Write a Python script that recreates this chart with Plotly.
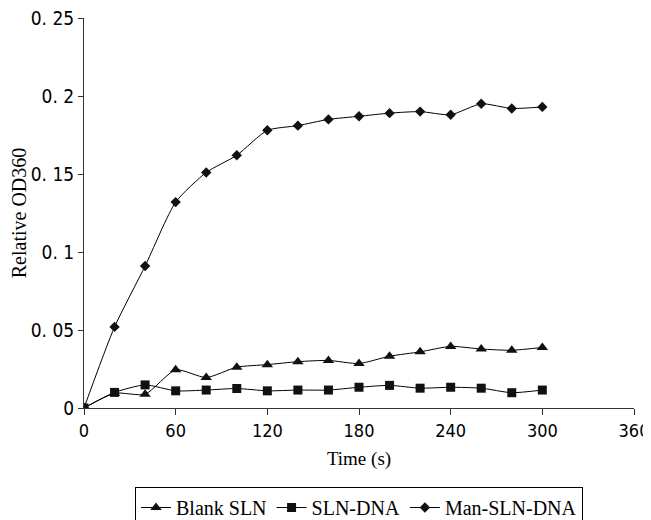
import plotly.graph_objects as go

time_s = [0, 20, 40, 60, 80, 100, 120, 140, 160, 180, 200, 220, 240, 260, 280, 300]
blank_sln = [0, 0.0095, 0.0088, 0.0245, 0.0195, 0.0262, 0.0278, 0.0297, 0.0305, 0.0285,
             0.0332, 0.0360, 0.0395, 0.0378, 0.0370, 0.0388]
sln_dna = [0, 0.0100, 0.0148, 0.0110, 0.0115, 0.0125, 0.0110, 0.0115, 0.0115, 0.0133,
           0.0145, 0.0127, 0.0133, 0.0127, 0.0098, 0.0115]
man_sln_dna = [0, 0.052, 0.091, 0.132, 0.151, 0.162, 0.178, 0.181, 0.185, 0.187,
               0.189, 0.190, 0.188, 0.195, 0.192, 0.193]

series_names = ["Blank SLN", "SLN-DNA", "Man-SLN-DNA"]
y_tickvals = [0, 0.05, 0.1, 0.15, 0.2, 0.25]
y_ticktext = ["0", "0. 05", "0. 1", "0. 15", "0. 2", "0. 25"]
x_tickvals = [0, 60, 120, 180, 240, 300, 360]

fig = go.Figure()
symbols = ["triangle-up", "square", "diamond"]
sizes = [10, 9, 8]
for name, vals, sym, sz in zip(series_names, [blank_sln, sln_dna, man_sln_dna], symbols, sizes):
    fig.add_trace(go.Scatter(
        x=time_s, y=vals, name=name, mode="lines+markers",
        line=dict(color="black", width=1, shape="spline", smoothing=0.6),
        marker=dict(symbol=sym, size=sz, color="#111111"),
    ))

narrow = "DejaVu Sans Condensed, Liberation Sans Narrow, Arial Narrow, sans-serif"
serif = "Liberation Serif, Times New Roman, serif"

fig.update_layout(
    width=651, height=520,
    margin=dict(l=76, r=25, t=10, b=120),
    paper_bgcolor="white", plot_bgcolor="white",
    showlegend=True,
    legend=dict(
        orientation="h", x=0.5, xanchor="center",
        yref="container", y=0.0788, yanchor="top",
        bordercolor="black", borderwidth=1,
        font=dict(family=serif, size=20, color="black"),
        itemwidth=30, tracegroupgap=0,
    ),
    xaxis=dict(
        range=[0, 360], tickvals=x_tickvals, showgrid=False, zeroline=False,
        showline=True, linecolor="#333333", linewidth=1, automargin=False,
        ticks="outside", ticklen=6, tickcolor="#333333",
        tickfont=dict(family=narrow, size=18, color="black"),
        ticklabeloverflow="allow",
        title=dict(text="Time (s)", font=dict(family=serif, size=19, color="black"), standoff=12),
    ),
    yaxis=dict(
        range=[0, 0.25], tickvals=y_tickvals, ticktext=y_ticktext, showgrid=False, zeroline=False,
        showline=True, linecolor="#333333", linewidth=1, automargin=False,
        ticks="outside", ticklen=5, tickcolor="#333333",
        tickfont=dict(family=narrow, size=19, color="black"),
        ticklabeloverflow="allow",
        title=dict(text="Relative OD360", font=dict(family=serif, size=20, color="black"), standoff=8),
    ),
)

fig.write_html("out.html")
